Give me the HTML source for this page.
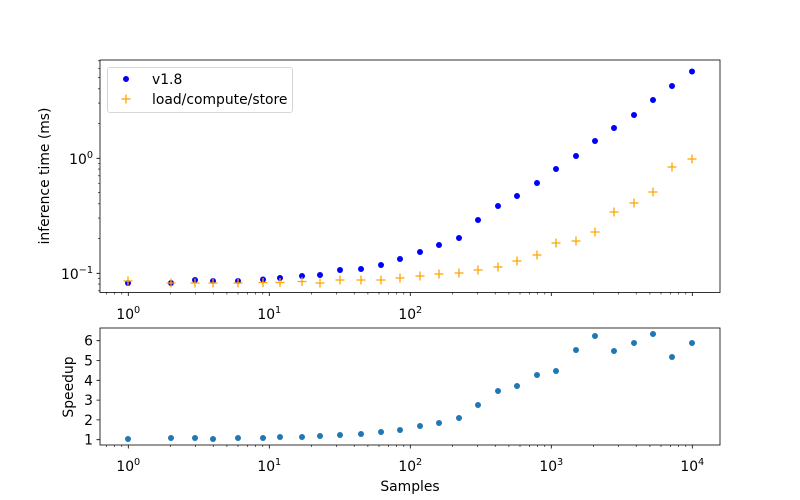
<!DOCTYPE html>
<html><head><meta charset="utf-8"><style>
html,body{margin:0;padding:0;background:#fff;}
svg{display:block;font-family:"DejaVu Sans","Liberation Sans",sans-serif;}
</style></head><body>
<svg width="800" height="500" viewBox="0 0 800 500" xmlns="http://www.w3.org/2000/svg">
<rect width="800" height="500" fill="#fff"/>
<defs>
<circle id="b" r="3" fill="#0000ff"/>
<path id="o" d="M-4.5,0H4.5M0,-4.5V4.5" stroke="#ffa500" stroke-width="1.3" fill="none"/>
<circle id="s" r="3" fill="#1f77b4"/>
</defs>
<g stroke="#000" stroke-width="0.8" fill="none">
<rect x="100" y="60" width="620" height="232.5"/>
<rect x="100" y="328" width="620" height="117"/>
</g>
<g stroke="#000" stroke-width="0.8">
<path d="M128.3,292.5v3.5M269.3,292.5v3.5M410.3,292.5v3.5M551.3,292.5v3.5M692.3,292.5v3.5"/>
<path d="M128.3,445v3.5M269.3,445v3.5M410.3,445v3.5M551.3,445v3.5M692.3,445v3.5"/>
<path stroke-width="0.6" d="M106.5,292.5v2M114.6,292.5v2M121.8,292.5v2M170.7,292.5v2M195.6,292.5v2M213.2,292.5v2M226.9,292.5v2M238,292.5v2M247.5,292.5v2M255.6,292.5v2M262.8,292.5v2M311.7,292.5v2M336.6,292.5v2M354.2,292.5v2M367.9,292.5v2M379,292.5v2M388.5,292.5v2M396.6,292.5v2M403.8,292.5v2M452.7,292.5v2M477.6,292.5v2M495.2,292.5v2M508.9,292.5v2M520,292.5v2M529.5,292.5v2M537.6,292.5v2M544.8,292.5v2M593.7,292.5v2M618.6,292.5v2M636.2,292.5v2M649.9,292.5v2M661,292.5v2M670.5,292.5v2M678.6,292.5v2M685.8,292.5v2"/>
<path stroke-width="0.6" d="M106.5,445v2M114.6,445v2M121.8,445v2M170.7,445v2M195.6,445v2M213.2,445v2M226.9,445v2M238,445v2M247.5,445v2M255.6,445v2M262.8,445v2M311.7,445v2M336.6,445v2M354.2,445v2M367.9,445v2M379,445v2M388.5,445v2M396.6,445v2M403.8,445v2M452.7,445v2M477.6,445v2M495.2,445v2M508.9,445v2M520,445v2M529.5,445v2M537.6,445v2M544.8,445v2M593.7,445v2M618.6,445v2M636.2,445v2M649.9,445v2M661,445v2M670.5,445v2M678.6,445v2M685.8,445v2"/>
<path d="M100,158.3h-3.5M100,273.3h-3.5"/>
<path stroke-width="0.6" d="M100,290.8h-2M100,284.1h-2M100,278.3h-2M100,238.4h-2M100,218.1h-2M100,203.8h-2M100,192.6h-2M100,183.5h-2M100,175.8h-2M100,169.1h-2M100,163.3h-2M100,123.4h-2M100,103.1h-2M100,88.8h-2M100,77.6h-2M100,68.5h-2M100,60.8h-2"/>
<path d="M100,439.7h-3.5M100,419.9h-3.5M100,400.1h-3.5M100,380.3h-3.5M100,360.5h-3.5M100,340.7h-3.5"/>
</g>
<g font-size="13.9" fill="#000" text-anchor="middle">
<text x="128.3" y="319">10<tspan font-size="9.7" dy="-6">0</tspan></text>
<text x="269.3" y="319">10<tspan font-size="9.7" dy="-6">1</tspan></text>
<text x="410.3" y="319">10<tspan font-size="9.7" dy="-6">2</tspan></text>
<text x="128.3" y="471">10<tspan font-size="9.7" dy="-6">0</tspan></text>
<text x="269.3" y="471">10<tspan font-size="9.7" dy="-6">1</tspan></text>
<text x="410.3" y="471">10<tspan font-size="9.7" dy="-6">2</tspan></text>
<text x="551.3" y="471">10<tspan font-size="9.7" dy="-6">3</tspan></text>
<text x="692.3" y="471">10<tspan font-size="9.7" dy="-6">4</tspan></text>
<text x="410" y="491">Samples</text>
</g>
<g font-size="13.9" fill="#000" text-anchor="end">
<text x="93" y="164">10<tspan font-size="9.7" dy="-6">0</tspan></text>
<text x="93" y="279">10<tspan font-size="9.7" dy="-6">−1</tspan></text>
<text x="93" y="444.7">1</text><text x="93" y="424.9">2</text><text x="93" y="405.1">3</text>
<text x="93" y="385.3">4</text><text x="93" y="365.5">5</text><text x="93" y="345.7">6</text>
</g>
<text font-size="13.9" text-anchor="middle" transform="translate(49,176) rotate(-90)">inference time (ms)</text>
<text font-size="13.9" text-anchor="middle" transform="translate(73,387) rotate(-90)">Speedup</text>
<rect x="107.5" y="67.5" width="185" height="45" rx="2.5" fill="#fff" fill-opacity="0.8" stroke="#ccc" stroke-width="0.8"/>
<use href="#b" x="126" y="79"/>
<use href="#o" x="126" y="99"/>
<text x="152" y="84" font-size="13.9">v1.8</text>
<text x="152" y="104" font-size="13.9">load/compute/store</text>
<g>
<use href="#b" x="128" y="283"/><use href="#b" x="171" y="283"/><use href="#b" x="195" y="280"/><use href="#b" x="213" y="281"/><use href="#b" x="238" y="281"/><use href="#b" x="263" y="279.5"/><use href="#b" x="280" y="278"/><use href="#b" x="302" y="276"/><use href="#b" x="320" y="275"/><use href="#b" x="340" y="270"/><use href="#b" x="361" y="269"/><use href="#b" x="381" y="265"/><use href="#b" x="400" y="259"/><use href="#b" x="420" y="252"/><use href="#b" x="439" y="245"/><use href="#b" x="459" y="238"/><use href="#b" x="478" y="220"/><use href="#b" x="498" y="206"/><use href="#b" x="517" y="196"/><use href="#b" x="537" y="183"/><use href="#b" x="556" y="169"/><use href="#b" x="576" y="156"/><use href="#b" x="595" y="141"/><use href="#b" x="614" y="128"/><use href="#b" x="634" y="115"/><use href="#b" x="653" y="100"/><use href="#b" x="672" y="86"/><use href="#b" x="692" y="71.5"/>
</g>
<g>
<use href="#o" x="128" y="281"/><use href="#o" x="171" y="283"/><use href="#o" x="195" y="283"/><use href="#o" x="213" y="283"/><use href="#o" x="238" y="283"/><use href="#o" x="263" y="282.5"/><use href="#o" x="280" y="282.5"/><use href="#o" x="302" y="281.5"/><use href="#o" x="320" y="283"/><use href="#o" x="340" y="280"/><use href="#o" x="361" y="280"/><use href="#o" x="381" y="280"/><use href="#o" x="400" y="278"/><use href="#o" x="420" y="276"/><use href="#o" x="439" y="274"/><use href="#o" x="459" y="273"/><use href="#o" x="478" y="270"/><use href="#o" x="498" y="267"/><use href="#o" x="517" y="261"/><use href="#o" x="537" y="255"/><use href="#o" x="556" y="243"/><use href="#o" x="576" y="241"/><use href="#o" x="595" y="232"/><use href="#o" x="614" y="212"/><use href="#o" x="634" y="203"/><use href="#o" x="653" y="192"/><use href="#o" x="672" y="167"/><use href="#o" x="692" y="159"/>
</g>
<g>
<use href="#s" x="128" y="439"/><use href="#s" x="171" y="438"/><use href="#s" x="195" y="438"/><use href="#s" x="213" y="439"/><use href="#s" x="238" y="438"/><use href="#s" x="263" y="438"/><use href="#s" x="280" y="437"/><use href="#s" x="302" y="437"/><use href="#s" x="320" y="436"/><use href="#s" x="340" y="435"/><use href="#s" x="361" y="434"/><use href="#s" x="381" y="432"/><use href="#s" x="400" y="430"/><use href="#s" x="420" y="426"/><use href="#s" x="439" y="423"/><use href="#s" x="459" y="418"/><use href="#s" x="478" y="405"/><use href="#s" x="498" y="391"/><use href="#s" x="517" y="386"/><use href="#s" x="537" y="375"/><use href="#s" x="556" y="371"/><use href="#s" x="576" y="350"/><use href="#s" x="595" y="336"/><use href="#s" x="614" y="351"/><use href="#s" x="634" y="343"/><use href="#s" x="653" y="334"/><use href="#s" x="672" y="357"/><use href="#s" x="692" y="343"/>
</g>
</svg>
</body></html>
